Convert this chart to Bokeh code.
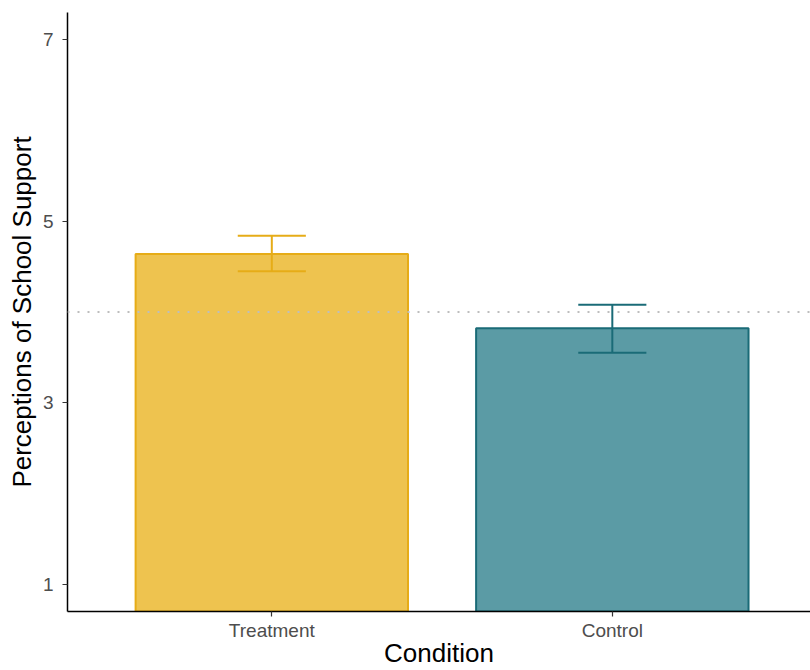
from bokeh.plotting import figure
from bokeh.models import Range1d, FixedTicker, Span, ColumnDataSource
from bokeh.embed import file_html
from bokeh.resources import INLINE

conditions = ["Treatment", "Control"]
means = [4.64, 3.82]
lower = [4.45, 3.55]
upper = [4.84, 4.08]
reference_line = 4
fills = ["#EEC34F", "#5B9BA5"]
outlines = ["#E6AC17", "#1A6B77"]
y_ticks = [1, 3, 5, 7]

xs = [i + 1 for i in range(len(conditions))]
cap = 0.1
src = ColumnDataSource(dict(
    x=xs, top=means, lo=lower, hi=upper, fill=fills, line=outlines,
    x0=[x - cap for x in xs], x1=[x + cap for x in xs],
))

p = figure(width=810, height=670, output_backend="svg", toolbar_location=None,
           x_range=Range1d(0.4, 2.582), y_range=Range1d(0.7, 7.3),
           min_border_left=67, min_border_right=0, min_border_top=12,
           min_border_bottom=20)
p.outline_line_color = None
p.grid.visible = False
p.background_fill_color = "white"

p.vbar(x="x", top="top", bottom=0.7, width=0.8, source=src,
       fill_color="fill", line_color="line", line_width=2)

sp = Span(location=reference_line, dimension="width", line_color="#bdbdbd",
          line_dash="2 8", line_width=2)
p.add_layout(sp)

p.segment(x0="x", x1="x", y0="lo", y1="hi", source=src, line_color="line", line_width=2)
p.segment(x0="x0", x1="x1", y0="lo", y1="lo", source=src, line_color="line", line_width=2)
p.segment(x0="x0", x1="x1", y0="hi", y1="hi", source=src, line_color="line", line_width=2)

p.xaxis.ticker = FixedTicker(ticks=xs)
p.xaxis.major_label_overrides = {x: c for x, c in zip(xs, conditions)}
p.yaxis.ticker = FixedTicker(ticks=y_ticks)

for ax in (p.xaxis, p.yaxis):
    ax.axis_line_color = "black"
    ax.axis_line_width = 1.5
    ax.major_tick_line_color = "#333333"
    ax.major_tick_line_width = 1.2
    ax.major_tick_out = 5
    ax.major_tick_in = 0
    ax.minor_tick_line_color = None
    ax.major_label_text_font = "Liberation Sans"
    ax.major_label_text_font_size = "19px"
    ax.major_label_text_color = "#4d4d4d"
    ax.axis_label_text_font = "Liberation Sans"
    ax.axis_label_text_font_size = "26px"
    ax.axis_label_text_font_style = "normal"
    ax.axis_label_text_color = "black"

p.xaxis.axis_label = "Condition"
p.yaxis.axis_label = "Perceptions of School Support"
p.xaxis.major_label_standoff = 3
p.yaxis.major_label_standoff = 9
p.xaxis.axis_label_standoff = -6
p.yaxis.axis_label_standoff = 3

open("out.html", "w").write(file_html(p, INLINE))
